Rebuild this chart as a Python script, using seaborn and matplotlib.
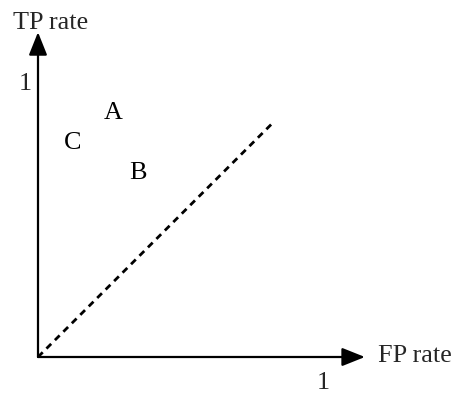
import matplotlib
matplotlib.use("Agg")
import matplotlib.pyplot as plt
import seaborn as sns
import pandas as pd

sns.set_theme(style="white")
plt.rcParams['font.family'] = ['Liberation Serif', 'DejaVu Serif']

# Classifier points in ROC space (FP rate, TP rate)
labels = ["A", "B", "C"]
fp_rate = [0.263, 0.351, 0.123]
tp_rate = [0.885, 0.668, 0.777]

# Random-guess diagonal (dashed)
diag_fp = [0.0, 0.821]
diag_tp = [0.0, 0.847]

# Axis arrow extents
x_axis_end = 1.147
y_axis_end = 1.179

x_tick_label = "1"
y_tick_label = "1"
x_title = "FP rate"
y_title = "TP rate"

W, H = 454, 395
fig = plt.figure(figsize=(W / 100, H / 100), dpi=100)
ax = fig.add_axes([0, 0, 1, 1])
ox, oy = 38, 357
ux, uy = 285, 275.5
ax.set_xlim(-ox / ux, (W - ox) / ux)
ax.set_ylim(-(H - oy) / uy, oy / uy)
ax.axis("off")

diag = pd.DataFrame({"fp": diag_fp, "tp": diag_tp})
sns.lineplot(data=diag, x="fp", y="tp", ax=ax, color="black", lw=2.0,
             dashes=False, linestyle=(0, (2.4, 1.9)), legend=False)

arrow_kw = dict(arrowstyle="-|>,head_length=1.0,head_width=0.4",
                mutation_scale=14, lw=1.6, color="black",
                shrinkA=0, shrinkB=0)
ax.annotate("", xy=(x_axis_end, 0), xytext=(0, 0), arrowprops=arrow_kw)
ax.annotate("", xy=(0, y_axis_end), xytext=(0, 0), arrowprops=arrow_kw)

fs = 18.8
for lab, x, y in zip(labels, fp_rate, tp_rate):
    ax.text(x, y, lab, fontsize=fs, ha="center", va="center", color="black")

ax.text(1.0, -26 / uy, x_tick_label, fontsize=fs, ha="center", va="center")
ax.text(-13 / ux, 0.99, y_tick_label, fontsize=fs, ha="center", va="center")
ax.text((378 - ox) / ux, (oy - 356) / uy, x_title, fontsize=fs, ha="left", va="center")
ax.text((51 - ox) / ux, (oy - 23) / uy, y_title, fontsize=fs, ha="center", va="center")

fig.savefig("out.png", dpi=100)
